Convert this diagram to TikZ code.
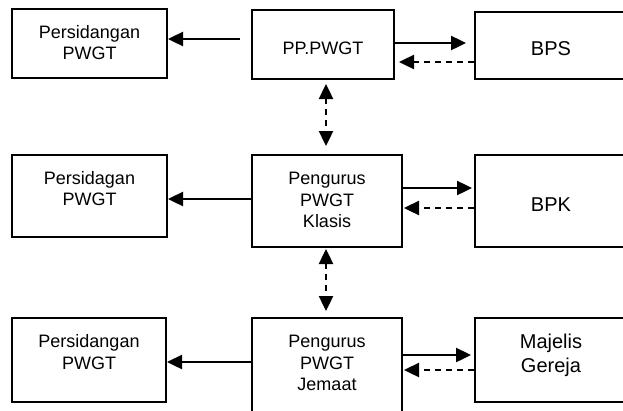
\documentclass[tikz,border=0pt]{standalone}
\usepackage{fontspec}
\setmainfont{Liberation Sans}
\usetikzlibrary{arrows.meta}

\begin{document}
\begin{tikzpicture}[x=1pt, y=-1pt, >={Triangle[length=15pt,width=14pt]},
  box/.style={draw, line width=2pt, inner sep=0pt},
  txt/.style={align=center, inner sep=0pt, font=\fontsize{18}{21.5}\selectfont},
  bigtxt/.style={txt, font=\fontsize{20}{24}\selectfont},
  link/.style={->, line width=2.4pt},
  back/.style={->, line width=2.4pt, dash pattern=on 6pt off 5pt},
  both/.style={<->, line width=2.4pt, dash pattern=on 6pt off 5pt}]
  \useasboundingbox (0,0) rectangle (623,410);
  \clip (0,0) rectangle (623,410);

  % top row
  \node[box, minimum width=155, minimum height=69] (sid1) at (89.5,43.5) {};
  \node[txt] (sid1t) at (89.5,42.5) {Persidangan\\PWGT};
  \node[box, minimum width=142, minimum height=69] (pp) at (323,44.5) {};
  \node[txt] (ppt) at (323,48) {PP.PWGT};
  \node[box, minimum width=155, minimum height=67] (bps) at (552.5,45.5) {};
  \node[bigtxt] (bpst) at (551,49) {BPS};

  % middle row
  \node[box, minimum width=155, minimum height=82] (sid2) at (89.5,196) {};
  \node[txt] (sid2t) at (89.5,188.5) {Persidagan\\PWGT};
  \node[box, minimum width=150, minimum height=92] (klasis) at (327,201) {};
  \node[txt] (klasist) at (327,200) {Pengurus\\PWGT\\Klasis};
  \node[box, minimum width=155, minimum height=92] (bpk) at (552.5,201) {};
  \node[bigtxt] (bpkt) at (551,205) {BPK};

  % bottom row
  \node[box, minimum width=154, minimum height=84] (sid3) at (89,360) {};
  \node[txt] (sid3t) at (89,352) {Persidangan\\PWGT};
  \node[box, minimum width=150, minimum height=100] (jemaat) at (327,368) {};
  \node[txt] (jemaatt) at (327,363) {Pengurus\\PWGT\\Jemaat};
  \node[box, minimum width=155, minimum height=84] (majelis) at (552.5,360) {};
  \node[bigtxt] (majelist) at (551,355) {Majelis\\Gereja};

  % arrows
  \coordinate (start1) at (240,39);
  \draw[link] (start1) -- (sid1.east |- start1);
  \draw[link, shorten >=8pt] (pp.east |- 0,43) -- (bps.west |- 0,43);
  \draw[back, shorten >=4pt] (bps.west |- 0,62) -- (pp.east |- 0,62);
  \draw[both, shorten <=4pt, shorten >=8pt] (pp.south -| 326,0) -- (klasis.north -| 326,0);

  \draw[link] (klasis.west |- 0,199) -- (sid2.east |- 0,199);
  \draw[link, shorten >=2pt] (klasis.east |- 0,188) -- (bpk.west |- 0,188);
  \draw[back, shorten >=1pt] (bpk.west |- 0,208) -- (klasis.east |- 0,208);
  \draw[both, shorten <=1pt, shorten >=6pt] (klasis.south -| 326,0) -- (jemaat.north -| 326,0);

  \draw[link] (jemaat.west |- 0,362) -- (sid3.east |- 0,362);
  \draw[link, shorten >=3pt] (jemaat.east |- 0,355) -- (majelis.west |- 0,355);
  \draw[back, shorten >=1pt] (majelis.west |- 0,370) -- (jemaat.east |- 0,370);
\end{tikzpicture}
\end{document}
